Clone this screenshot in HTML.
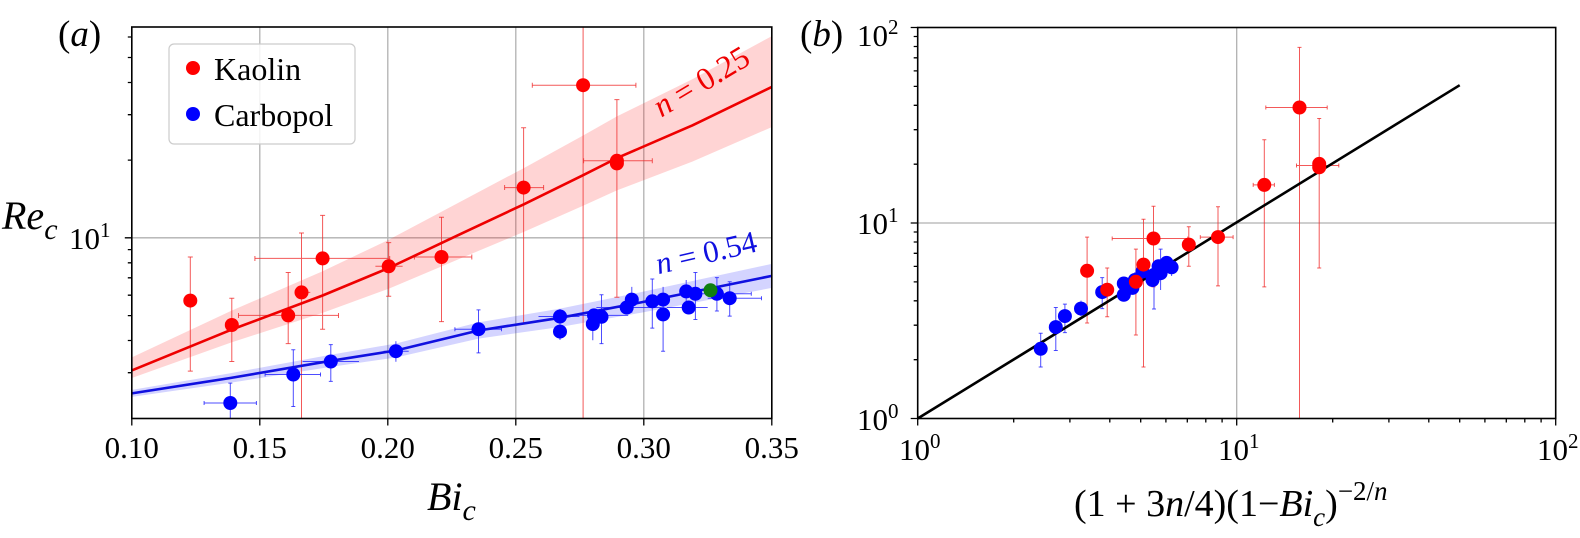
<!DOCTYPE html>
<html><head><meta charset="utf-8"><style>
html,body{margin:0;padding:0;background:#fff;}
svg{display:block;}
svg text{font-family:"Liberation Serif","Times New Roman",serif;}
</style></head><body>
<svg width="1580" height="538" viewBox="0 0 1580 538" xmlns="http://www.w3.org/2000/svg">
<g stroke="#b0b0b0" stroke-width="1.3">
<line x1="259.8" y1="27" x2="259.8" y2="418.5"/><line x1="387.8" y1="27" x2="387.8" y2="418.5"/>
<line x1="515.8" y1="27" x2="515.8" y2="418.5"/><line x1="643.8" y1="27" x2="643.8" y2="418.5"/>
<line x1="131.8" y1="237.8" x2="771.8" y2="237.8"/>
</g>
<polygon fill="#ff0000" fill-opacity="0.17" points="131.8,357.4 230.8,311.0 322.6,271.2 388.7,239.8 461.5,201.1 523.6,168.2 583.1,135.5 616.9,116.4 692.3,79.3 771.8,36.1 771.8,127.1 692.3,161.6 616.9,190.4 583.1,205.8 523.6,232.0 461.5,258.0 388.7,288.7 322.6,312.9 230.8,342.6 131.8,378.0"/>
<polygon fill="#0000ff" fill-opacity="0.17" points="131.8,389.9 230.3,373.2 330.8,354.7 395.9,343.5 478.5,322.4 560,308.6 641,292.1 771.8,263.9 771.8,287.9 641,312.7 560,327 478.5,338.6 395.9,357.5 330.8,366.9 230.3,382.8 131.8,396.9"/>
<g stroke="#f03030" stroke-width="1" stroke-opacity="0.8">
<path d="M190.3 257V371.1M231.8 298.2V361.5M288.2 272.5V343.6M238.5 315.4H338.5M301.5 233V418.5M294.9 292.4H310.3M322.6 215.4V329.2M254.9 258.4H389.7M388.7 242.6V296.2M375.4 266.3H402.6M441.5 217.2V321.6M414.4 257H471.8M523.6 127.8V323M504.6 187.6H543.6M583.1 26.8V418.5M532.3 85.2H635.9M616.9 99.6V297.2M583.6 160.8H652.3"/>
<path d="M187.8 257h5M187.8 371.1h5M229.3 298.2h5M229.3 361.5h5M285.7 272.5h5M285.7 343.6h5M299 233h5M320.1 215.4h5M320.1 329.2h5M386.2 242.6h5M386.2 296.2h5M439 217.2h5M439 321.6h5M521.1 127.8h5M521.1 323h5M614.4 99.6h5M614.4 297.2h5M238.5 313v5M338.5 313v5M254.9 256v5M389.7 256v5M414.4 254.5v5M471.8 254.5v5M504.6 185v5M543.6 185v5M532.3 82.7v5M635.9 82.7v5M583.6 158.3v5M652.3 158.3v5"/>
</g>
<g stroke="#2020ff" stroke-width="1" stroke-opacity="0.8">
<path d="M230.3 383.1V418.5M204.1 403H256.4M293.3 349.8V406.5M265.1 374.5H320.5M330.8 344.6V381.4M302.6 361.5H359M395.9 341.2V361.8M383.6 351.2H408.7M478.5 309.9V352.9M454.9 329.2H501.5M538.5 316.5H579.5M560 309V340M592.8 309.2V340.2M564.1 315.4H628.2M601.5 294.8V343.6M596.4 307.5H661.5M631.8 286.9V312.7M652.3 279V328.1M663.1 286.9V351.2M686.2 280V302.4M666.7 307.5H707.7M695.4 272.5V319.5M716.9 277.6V311M697.4 293.8H751.3M729.7 281.8V316.1M707.7 298.2H761.5"/>
<path d="M228.3 383.1h4M291.3 349.8h4M291.3 406.5h4M328.8 344.6h4M328.8 381.4h4M476.5 309.9h4M476.5 352.9h4M599.5 294.8h4M599.5 343.6h4M650.3 279h4M650.3 328.1h4M661.1 351.2h4M693.4 272.5h4M693.4 319.5h4M714.9 277.6h4M714.9 311h4M727.7 281.8h4M727.7 316.1h4M204.1 401v4M256.4 401v4M265.1 372.5v4M320.5 372.5v4M454.9 327.2v4M501.5 327.2v4M751.3 291.8v4M761.5 296.2v4"/>
</g>
<polyline fill="none" stroke="#ee0000" stroke-width="2.6" stroke-linejoin="round" points="131.8,370.4 230.8,329.9 322.6,295.5 388.7,268.0 461.5,233.6 523.6,204.4 583.1,175.2 616.9,158.1 692.3,125.4 771.8,86.9"/>
<polyline fill="none" stroke="#1010e0" stroke-width="2.6" stroke-linejoin="round" points="131.8,393.4 230.3,378.0 330.8,360.8 395.9,350.5 478.5,330.5 560.0,317.8 641.0,302.4 771.8,275.9"/>
<g fill="#ff0000">
<circle cx="190.3" cy="300.6" r="7"/><circle cx="231.8" cy="325" r="7"/><circle cx="288.2" cy="315.4" r="7"/><circle cx="301.5" cy="292.4" r="7"/><circle cx="322.6" cy="258.4" r="7"/><circle cx="388.7" cy="266.3" r="7"/><circle cx="441.5" cy="257" r="7"/><circle cx="523.6" cy="187.6" r="7"/><circle cx="583.1" cy="85.2" r="7"/><circle cx="616.9" cy="160.8" r="7"/><circle cx="616.9" cy="163.4" r="7"/>
</g>
<g fill="#0000ff">
<circle cx="230.3" cy="403" r="7"/><circle cx="293.3" cy="374.5" r="7"/><circle cx="330.8" cy="361.5" r="7"/><circle cx="395.9" cy="351.2" r="7"/><circle cx="478.5" cy="329.2" r="7"/><circle cx="560" cy="316.5" r="7"/><circle cx="560" cy="331.6" r="7"/><circle cx="592.8" cy="324" r="7"/><circle cx="594" cy="315.4" r="7"/><circle cx="601.5" cy="316.8" r="7"/><circle cx="626.7" cy="307.5" r="7"/><circle cx="631.8" cy="299.6" r="7"/><circle cx="652.3" cy="301.3" r="7"/><circle cx="663.1" cy="299.6" r="7"/><circle cx="663.1" cy="314.4" r="7"/><circle cx="686.2" cy="291.4" r="7"/><circle cx="688.7" cy="307.5" r="7"/><circle cx="695.4" cy="293.8" r="7"/><circle cx="716.9" cy="293.8" r="7"/><circle cx="729.7" cy="298.2" r="7"/>
</g>
<circle cx="710.5" cy="290.3" r="7" fill="#108010"/>
<rect x="131.8" y="27" width="640" height="391.5" fill="none" stroke="#000" stroke-width="1.6"/>
<g stroke="#000" stroke-width="1.3">
<path d="M131.8 418.5v7M259.8 418.5v7M387.8 418.5v7M515.8 418.5v7M643.8 418.5v7M771.8 418.5v7"/>
<path d="M131.8 237.8h-7M131.8 372.7h-4M131.8 340.5h-4M131.8 315.6h-4M131.8 295.2h-4M131.8 277.8h-4M131.8 262.8h-4M131.8 249.6h-4M131.8 160.1h-4M131.8 114.7h-4M131.8 82.5h-4M131.8 57.5h-4M131.8 37h-4"/>
</g>
<g font-size="31" text-anchor="middle" fill="#000">
<text x="131.8" y="458">0.10</text><text x="259.8" y="458">0.15</text><text x="387.8" y="458">0.20</text><text x="515.8" y="458">0.25</text><text x="643.8" y="458">0.30</text><text x="771.8" y="458">0.35</text>
</g>
<text x="69" y="249" font-size="31">10<tspan font-size="21" dy="-12">1</tspan></text>
<text x="2" y="229" font-size="40" font-style="italic">Re<tspan font-size="30" dy="10">c</tspan></text>
<text x="427" y="510" font-size="40" font-style="italic">Bi<tspan font-size="30" dy="10">c</tspan></text>
<text x="58" y="46" font-size="37"><tspan>(</tspan><tspan font-style="italic">a</tspan><tspan>)</tspan></text>
<rect x="169" y="44" width="186" height="100" rx="5" fill="#fff" fill-opacity="0.85" stroke="#ccc" stroke-width="1.2"/>
<circle cx="193" cy="68" r="7" fill="#ff0000"/><circle cx="193" cy="114" r="7" fill="#0000ff"/>
<text x="214" y="80" font-size="32">Kaolin</text>
<text x="214" y="126" font-size="32">Carbopol</text>
<text x="701" y="92" font-size="32" fill="#ee0000" text-anchor="middle" transform="rotate(-31 701 81)"><tspan font-style="italic">n</tspan> = 0.25</text>
<text x="706" y="263" font-size="31" fill="#1010e0" text-anchor="middle" transform="rotate(-13 706 252)"><tspan font-style="italic">n</tspan> = 0.54</text>

<g stroke="#b0b0b0" stroke-width="1.3">
<line x1="1236.7" y1="27.5" x2="1236.7" y2="418.5"/><line x1="917.7" y1="223" x2="1555.7" y2="223"/>
</g>
<g stroke="#f03030" stroke-width="1" stroke-opacity="0.8">
<path d="M1087.1 237.1V323M1107.2 268V316.8M1135.9 249.1V335M1143.5 219.2V367M1153.5 206.2V286.9M1112.2 238.5H1187.8M1188.8 226.8V266.3M1218 206.8V285.9M1200.3 237.1H1233.1M1264.3 139.8V286.9M1253.2 184.9H1274.4M1299.5 47.4V418.5M1265.8 107.5H1327.2M1319.2 118.5V268M1296.5 165.5H1338.8"/>
<path d="M1085.1 237.1h4M1085.1 323h4M1105.2 268h4M1105.2 316.8h4M1133.9 249.1h4M1133.9 335h4M1141.5 219.2h4M1141.5 367h4M1151.5 206.2h4M1151.5 286.9h4M1186.8 226.8h4M1186.8 266.3h4M1216 206.8h4M1216 285.9h4M1262.3 139.8h4M1262.3 286.9h4M1297.5 47.4h4M1317.2 118.5h4M1317.2 268h4M1112.2 236.5v4M1187.8 236.5v4M1200.3 235.1v4M1233.1 235.1v4M1253.2 182.9v4M1274.4 182.9v4M1265.8 105.5v4M1327.2 105.5v4M1296.5 163.5v4M1338.8 163.5v4"/>
</g>
<g stroke="#2020ff" stroke-width="1" stroke-opacity="0.8">
<path d="M1040.7 333.3V367M1055.8 307.5V350.5M1064.9 304.1V332.6M1081 300.6V316M1102.2 277.6V308.6M1154 270V309M1160.6 249.1V290M1123.8 278V300M1134.9 272V290M1142.5 262V282M1166.6 256V272M1171.6 260V276"/>
<path d="M1038.7 333.3h4M1038.7 367h4M1053.8 307.5h4M1053.8 350.5h4M1062.9 304.1h4M1062.9 332.6h4M1100.2 277.6h4M1100.2 308.6h4M1152 309h4M1158.6 249.1h4"/>
</g>
<line x1="917.7" y1="418.5" x2="1459.7" y2="85.2" stroke="#000" stroke-width="2.6"/>
<g fill="#0000ff">
<circle cx="1040.7" cy="348.8" r="7"/><circle cx="1055.8" cy="327.1" r="7"/><circle cx="1064.9" cy="316.1" r="7"/><circle cx="1081" cy="308.6" r="7"/><circle cx="1102.2" cy="292.1" r="7"/><circle cx="1123.8" cy="294.8" r="7"/><circle cx="1123.8" cy="283.5" r="7"/><circle cx="1132.4" cy="287.9" r="7"/><circle cx="1134.9" cy="280" r="7"/><circle cx="1142.5" cy="271.4" r="7"/><circle cx="1152.5" cy="280" r="7"/><circle cx="1154" cy="274.9" r="7"/><circle cx="1158.6" cy="266.3" r="7"/><circle cx="1160.6" cy="273.2" r="7"/><circle cx="1166.6" cy="262.9" r="7"/><circle cx="1171.6" cy="267.3" r="7"/>
</g>
<g fill="#ff0000">
<circle cx="1087.1" cy="270.8" r="7"/><circle cx="1107.2" cy="289.7" r="7"/><circle cx="1135.9" cy="281.8" r="7"/><circle cx="1143.5" cy="264.6" r="7"/><circle cx="1153.5" cy="238.5" r="7"/><circle cx="1188.8" cy="244.6" r="7"/><circle cx="1218" cy="237.1" r="7"/><circle cx="1264.3" cy="184.9" r="7"/><circle cx="1299.5" cy="107.5" r="7"/><circle cx="1319.2" cy="163.9" r="7"/><circle cx="1319.2" cy="167.3" r="7"/>
</g>
<rect x="917.7" y="27.5" width="638" height="391" fill="none" stroke="#000" stroke-width="1.6"/>
<g stroke="#000" stroke-width="1.3">
<path d="M917.7 418.5v7M1236.7 418.5v7M1555.7 418.5v7"/>
<path d="M1013.7 418.5v4M1069.9 418.5v4M1109.8 418.5v4M1140.7 418.5v4M1165.9 418.5v4M1187.3 418.5v4M1205.8 418.5v4M1222.1 418.5v4M1332.7 418.5v4M1388.9 418.5v4M1428.8 418.5v4M1459.7 418.5v4M1484.9 418.5v4M1506.3 418.5v4M1524.8 418.5v4M1541.1 418.5v4"/>
<path d="M917.7 418.5h-7M917.7 223h-7M917.7 27.5h-7"/>
<path d="M917.7 359.7h-4M917.7 325.2h-4M917.7 300.8h-4M917.7 281.9h-4M917.7 266.4h-4M917.7 253.3h-4M917.7 242h-4M917.7 232h-4M917.7 164.2h-4M917.7 129.7h-4M917.7 105.3h-4M917.7 86.4h-4M917.7 70.9h-4M917.7 57.8h-4M917.7 46.5h-4M917.7 36.5h-4"/>
</g>
<g font-size="31" fill="#000">
<text x="857" y="46">10<tspan font-size="21" dy="-12">2</tspan></text>
<text x="857" y="234">10<tspan font-size="21" dy="-12">1</tspan></text>
<text x="857" y="430">10<tspan font-size="21" dy="-12">0</tspan></text>
<text x="899" y="460">10<tspan font-size="21" dy="-12">0</tspan></text>
<text x="1218" y="460">10<tspan font-size="21" dy="-12">1</tspan></text>
<text x="1537" y="460">10<tspan font-size="21" dy="-12">2</tspan></text>
</g>
<text x="800" y="46" font-size="37"><tspan>(</tspan><tspan font-style="italic">b</tspan><tspan>)</tspan></text>
<text x="1074" y="516" font-size="38">(1 + 3<tspan font-style="italic">n</tspan>/4)(1−<tspan font-style="italic">Bi</tspan><tspan font-size="27" font-style="italic" dy="10">c</tspan><tspan dy="-10">)</tspan><tspan font-size="27" dy="-16">−2/</tspan><tspan font-size="27" font-style="italic">n</tspan></text>
</svg>
</body></html>
